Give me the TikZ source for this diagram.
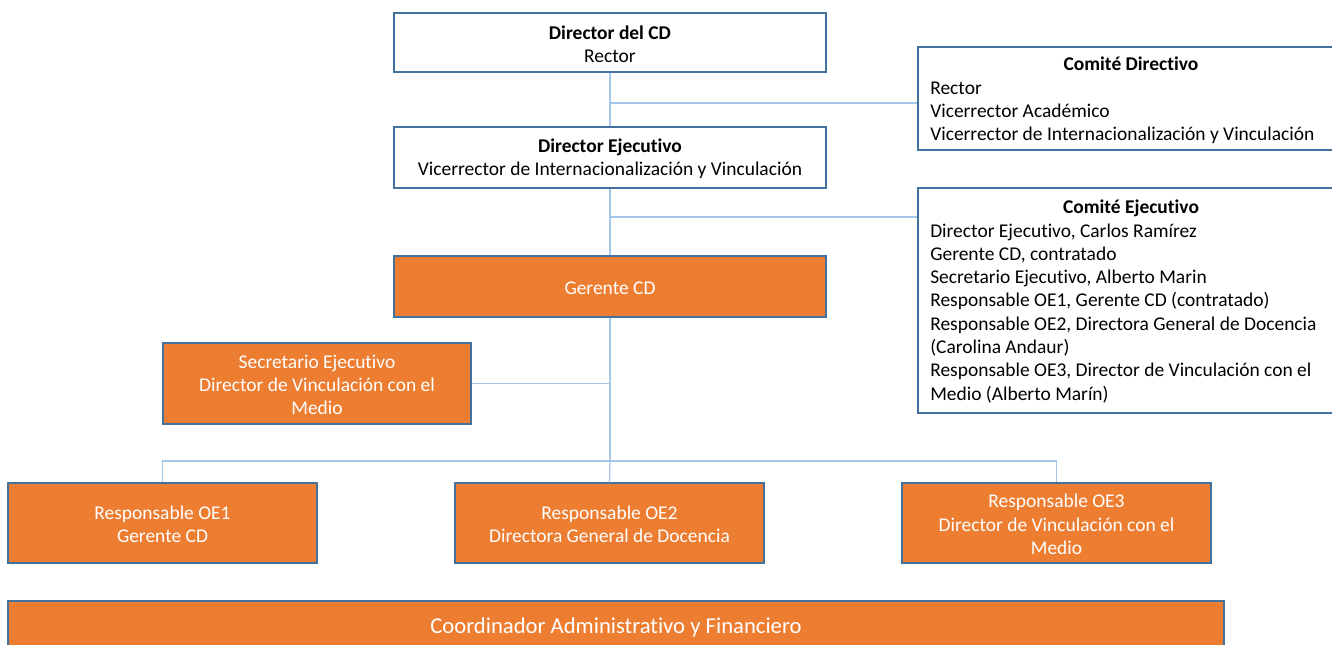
\documentclass[tikz,border=0pt]{standalone}
\usepackage{fontspec}
\setmainfont{Carlito}[Ligatures=NoCommon]
\definecolor{orng}{HTML}{ED7D31}
\definecolor{bordr}{HTML}{41719C}
\definecolor{connc}{HTML}{A4C6E8}
\begin{document}
\begin{tikzpicture}[x=0.75pt,y=-0.75pt,
  box/.style={draw=bordr, line width=1.1pt, minimum width=324pt, minimum height=45pt, inner sep=0pt},
  wbox/.style={box, fill=white},
  obox/.style={box, fill=orng},
  conn/.style={draw=connc, line width=1pt},
  txt/.style={font=\fontsize{14.6}{17.4}\selectfont, align=center, inner sep=0pt},
  wtxt/.style={txt, text=white},
  ltxt/.style={font=\fontsize{14.6}{17.4}\selectfont, inner sep=0pt, anchor=base west},
  ttxt/.style={font=\fontsize{14.6}{17.4}\selectfont\bfseries, inner sep=0pt, anchor=base}]
\useasboundingbox (0,0) rectangle (1332,645);
\clip (0,0) rectangle (1332,645);
% boxes
\node[wbox, minimum height=44.25pt] (dcd) at (610,42.5) {};
\node[txt] (dcdt) at ([yshift=-1.1pt]dcd.center) {\textbf{Director del CD}\\Rector};
\node[wbox, minimum height=45.75pt] (dej) at (610,157.5) {};
\node[txt] (dejt) at ([yshift=-1.1pt]dej.center) {\textbf{Director Ejecutivo}\\Vicerrector de Internacionalización y Vinculación};
\node[obox, minimum height=45.75pt] (ger) at (610,286.5) {};
\node[wtxt] (gert) at ([yshift=-1.1pt]ger.center) {Gerente CD};
\node[obox, minimum width=231pt, minimum height=60.75pt] (sec) at (317,383.5) {};
\node[wtxt] (sect) at ([yshift=-1.1pt]sec.center) {Secretario Ejecutivo\\Director de Vinculación con el\\Medio};
\node[obox, minimum width=231.75pt, minimum height=60pt] (oe1) at (162.5,523) {};
\node[wtxt] (oe1t) at ([yshift=-1.1pt]oe1.center) {Responsable OE1\\Gerente CD};
\node[obox, minimum width=231.75pt, minimum height=60pt] (oe2) at (609.5,523) {};
\node[wtxt] (oe2t) at ([yshift=-1.1pt]oe2.center) {Responsable OE2\\Directora General de Docencia};
\node[obox, minimum width=231.75pt, minimum height=60pt] (oe3) at (1056.5,523) {};
\node[wtxt] (oe3t) at ([yshift=-1.1pt]oe3.center) {Responsable OE3\\Director de Vinculación con el\\Medio};
\node[obox, minimum width=912pt, minimum height=37.5pt] (coord) at (616,626) {};
\node[wtxt, font=\fontsize{17}{20}\selectfont] (coordt) at ([yshift=-1.1pt]coord.center) {Coordinador Administrativo y Financiero};
% comites
\node[wbox, minimum width=320.25pt, minimum height=77.25pt] (cdir) at (1131.5,98.5) {};
\node[ttxt] (cdir0) at (1131,71) {Comité Directivo};
\foreach \t [count=\i] in {Rector, Vicerrector Académico, Vicerrector de Internacionalización y Vinculación}
  \node[ltxt] (cdir\i) at (930,71+23.1*\i) {\t};
\node[wbox, minimum width=320.25pt, minimum height=168.75pt] (cej) at (1131.5,300.5) {};
\node[ttxt] (cej0) at (1131,214) {Comité Ejecutivo};
\foreach \t [count=\i] in {{Director Ejecutivo, Carlos Ramírez}, {Gerente CD, contratado}, {Secretario Ejecutivo, Alberto Marin}, {Responsable OE1, Gerente CD (contratado)}, {Responsable OE2, Directora General de Docencia}, {(Carolina Andaur)}, {Responsable OE3, Director de Vinculación con el}, {Medio (Alberto Marín)}}
  \node[ltxt] (cej\i) at (930,214+23.25*\i) {\t};
% connectors
\coordinate (b1) at (610,103);
\coordinate (b2) at (610,217);
\coordinate (bar) at (610,461);
\draw[conn] (dcd.south) -- (dej.north);
\draw[conn] (dej.south) -- (ger.north);
\draw[conn] (b1) -- (b1 -| cdir.west);
\draw[conn] (b2) -- (b2 -| cej.west);
\draw[conn] (ger.south) -- (bar);
\draw[conn] (sec.east) -- (sec.east -| ger.south);
\draw[conn] (oe1.north) |- (bar) -| (oe3.north);
\draw[conn] (bar) -- (oe2.north);
\end{tikzpicture}
\end{document}
